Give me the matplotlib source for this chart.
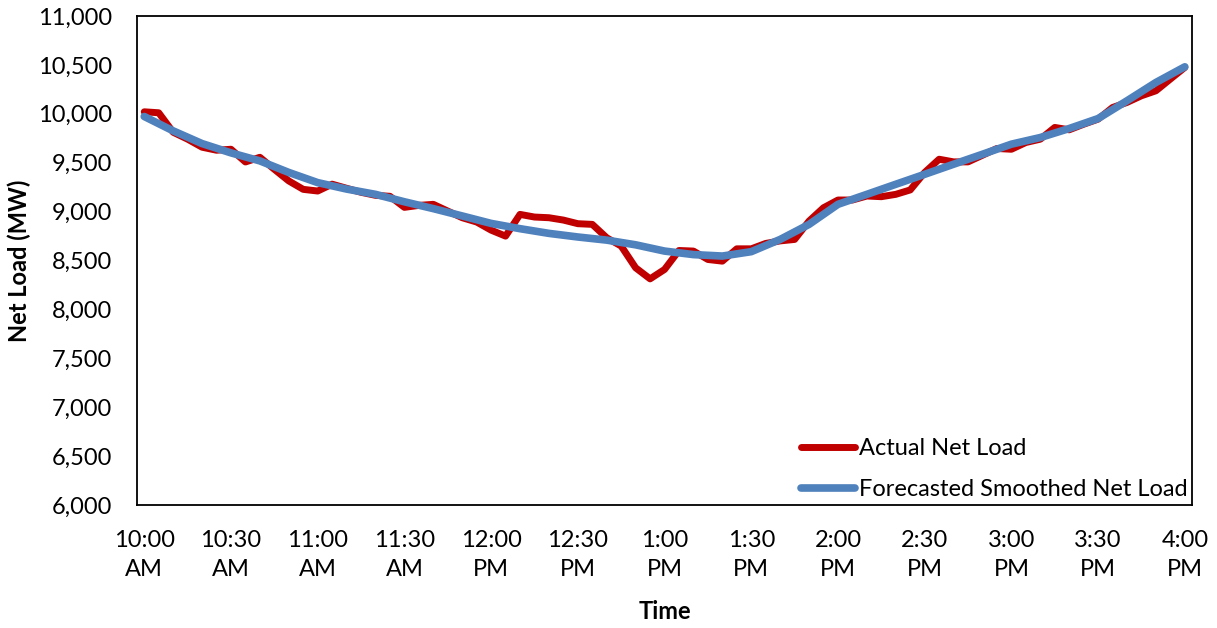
import matplotlib

matplotlib.use("Agg")
import matplotlib.pyplot as plt
from matplotlib.ticker import FuncFormatter

plt.rcParams["font.family"] = ["Lato", "DejaVu Sans"]

# 5-minute actual net load, 10:00 AM to 4:00 PM (MW)
actual_mw = [
    10020, 10010, 9811, 9740, 9658, 9627, 9637, 9507, 9555, 9432,
    9313, 9227, 9210, 9280, 9238, 9197, 9166, 9156, 9043, 9063,
    9074, 9005, 8937, 8893, 8810, 8749, 8971, 8944, 8937, 8913,
    8876, 8869, 8732, 8647, 8425, 8312, 8408, 8602, 8596, 8510,
    8493, 8619, 8619, 8674, 8700, 8715, 8903, 9039, 9118, 9118,
    9159, 9152, 9176, 9221, 9400, 9535, 9508, 9508, 9576, 9645,
    9637, 9706, 9740, 9860, 9836, 9893, 9945, 10064, 10116, 10184,
    10235, 10355, 10474,
]
# forecast smoothed net load at 10-minute steps (MW)
forecast_mw = [
    9972, 9825, 9695, 9600, 9518, 9400, 9296, 9230, 9176, 9100,
    9030, 8955, 8879, 8825, 8777, 8740, 8708, 8660, 8596, 8560,
    8545, 8590, 8715, 8869, 9074, 9176, 9279, 9381, 9484, 9586,
    9689, 9757, 9849, 9951, 10133, 10320, 10480,
]
tick_labels = [
    "10:00\nAM", "10:30\nAM", "11:00\nAM", "11:30\nAM", "12:00\nPM",
    "12:30\nPM", "1:00\nPM", "1:30\nPM", "2:00\nPM", "2:30\nPM",
    "3:00\nPM", "3:30\nPM", "4:00\nPM",
]

actual_x = list(range(len(actual_mw)))
forecast_x = [2 * i for i in range(len(forecast_mw))]

FS = 17

fig = plt.figure(figsize=(12.17, 6.28), dpi=100)
ax = fig.add_axes((0.1126, 0.1959, 0.8669, 0.7787))

ax.plot(actual_x, actual_mw, color="#C00000", lw=5.0, solid_joinstyle="round",
        solid_capstyle="round", label="Actual Net Load")
ax.plot(forecast_x, forecast_mw, color="#4F81BD", lw=5.5, solid_joinstyle="round",
        solid_capstyle="round", label="Forecasted Smoothed Net Load")

ax.set_xlim(-0.5, 72.5)
ax.set_ylim(6000, 11000)
ax.set_yticks(range(6000, 11001, 500))
ax.yaxis.set_major_formatter(FuncFormatter(lambda v, _: f"{v:,.0f}"))
ax.set_xticks(range(0, 73, 6))
ax.set_xticklabels(tick_labels, linespacing=1.5)
ax.tick_params(length=0, labelsize=FS, colors="#000000")
ax.tick_params(axis="y", pad=18)
ax.tick_params(axis="x", pad=18)

for s in ax.spines.values():
    s.set_linewidth(1.3)
    s.set_color("#000000")

ax.set_ylabel("Net Load (MW)", fontsize=FS, fontweight="bold", labelpad=5)
ax.set_xlabel("Time", fontsize=FS, fontweight="bold", labelpad=14)

ax.legend(loc="lower right", frameon=False, fontsize=FS, handlelength=2.3,
          handletextpad=0.15, labelspacing=0.85, borderpad=0.05,
          borderaxespad=0.15)

fig.savefig("out.png", dpi=100)
